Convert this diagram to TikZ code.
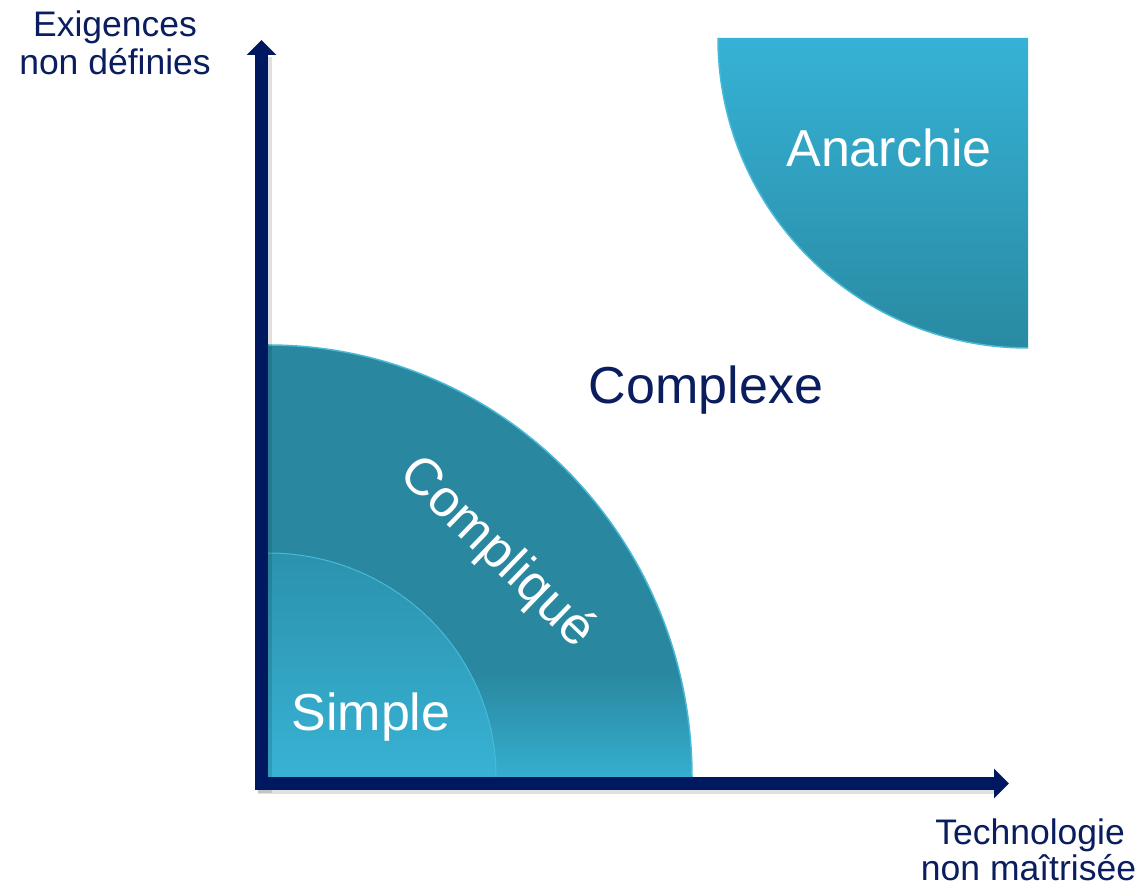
\documentclass[tikz,border=0pt]{standalone}
\usepackage{fontspec}
\setmainfont{Liberation Sans}
\usetikzlibrary{arrows.meta}
\definecolor{navy}{RGB}{0,24,96}
\definecolor{txtnavy}{RGB}{10,30,95}
\definecolor{compdark}{RGB}{41,136,160}
\definecolor{complight}{RGB}{54,174,207}
\definecolor{simtop}{RGB}{43,146,173}
\definecolor{simbot}{RGB}{56,178,212}
\definecolor{anatop}{RGB}{54,178,214}
\definecolor{anabot}{RGB}{41,138,162}
\definecolor{rim}{RGB}{72,186,216}
\pgfdeclareverticalshading{compshade}{100bp}{color(0bp)=(complight); color(25bp)=(complight); color(37bp)=(compdark); color(100bp)=(compdark)}
\tikzset{
  axisline/.style={draw=navy, line width=13pt, -{Triangle[width=29pt,length=15pt]}},
  axshadow/.style={draw=black, opacity=0.12, line width=14pt},
  rimline/.style={draw=rim, line width=1.5pt},
  biglabel/.style={font=\fontsize{52}{60}\selectfont, inner sep=0pt, anchor=base},
  axlabel/.style={font=\fontsize{35.5}{38}\selectfont, text=txtnavy, inner sep=0pt, anchor=base},
}
\begin{document}
\begin{tikzpicture}[x=1pt,y=1pt]
\useasboundingbox (0,0) rectangle (1145,889);
\fill[white] (0,0) rectangle (1145,889);
% shapes
\path[shading=compshade] (268,112) -- (692,112) arc[start angle=0,end angle=90,x radius=424,y radius=432] -- cycle;
\draw[rimline] (692,112) arc[start angle=0,end angle=90,x radius=424,y radius=432];
\path[top color=simtop, bottom color=simbot] (268,112) -- (496,112) arc[start angle=0,end angle=90,x radius=228,y radius=224] -- cycle;
\draw[rimline, line width=1pt] (496,112) arc[start angle=0,end angle=90,x radius=228,y radius=224];
\path[top color=anatop, bottom color=anabot] (718,851) -- (1028,851) -- (1028,541) arc[start angle=270,end angle=180,radius=310] -- cycle;
\draw[rimline] (1028,541) arc[start angle=270,end angle=180,radius=310];
% axes
\coordinate (ybot) at (261.5,99);
\coordinate (ytip) at (261.5,849);
\coordinate (xleft) at (255,105.5);
\coordinate (xtip) at (1009,105.5);
\draw[axshadow] ([shift={(3,-3)}]ybot) -- ([shift={(3,-3)}]261.5,835);
\draw[axshadow] ([shift={(3,-3)}]xleft) -- ([shift={(3,-3)}]995,105.5);
\draw[axisline] (ybot) -- (ytip);
\draw[axisline] (xleft) -- (xtip);
% labels
\node[axlabel] (ylab1) at (115,852) {Exigences};
\node[axlabel] (ylab2) at (115,814) {non définies};
\node[axlabel] (xlab1) at (1030,44.7) {Technologie};
\node[axlabel] (xlab2) at (1028.5,9) {non maîtrisée};
\node[biglabel, text=txtnavy] (complexe) at (706,485) {Complexe};
\node[biglabel, text=white] (anarchie) at (889,722) {Anarchie};
\node[biglabel, text=white] (simple) at (371,159) {Simple};
\node[font=\fontsize{52}{60}\selectfont, text=white, inner sep=0pt, rotate=-44] (complique) at (496,336) {Compliqué};
\end{tikzpicture}
\end{document}
